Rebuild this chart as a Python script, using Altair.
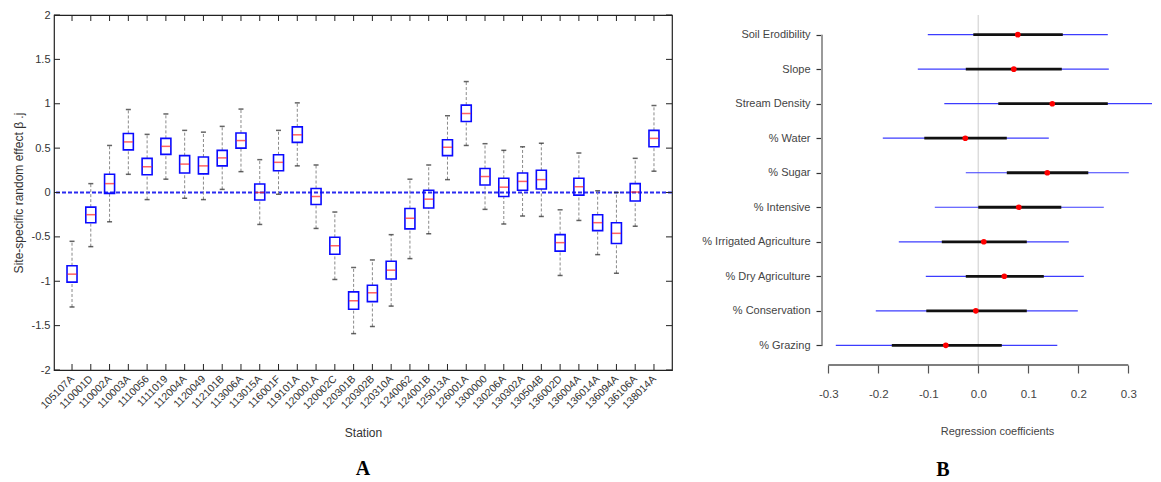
import json
import altair as alt
import pandas as pd

# ---------------- Panel A data ----------------
stations = ["105107A", "110001D", "110002A", "110003A", "1110056", "1111019", "112004A", "1120049",
            "112101B", "113006A", "113015A", "116001F", "119101A", "120001A", "120002C", "120301B",
            "120302B", "120310A", "1240062", "124001B", "125013A", "126001A", "1300000", "130206A",
            "130302A", "130504B", "136002D", "136004A", "136014A", "136094A", "136106A", "138014A"]
med = [-0.92, -0.25, 0.10, 0.57, 0.29, 0.52, 0.32, 0.30, 0.39, 0.585, 0.0, 0.34, 0.65, -0.045, -0.60, -1.22,
       -1.13, -0.875, -0.29, -0.075, 0.51, 0.89, 0.18, 0.06, 0.125, 0.145, -0.565, 0.065, -0.34, -0.46, 0.005, 0.61]
q1 = [-1.01, -0.34, -0.01, 0.48, 0.20, 0.43, 0.22, 0.21, 0.30, 0.50, -0.085, 0.245, 0.565, -0.135, -0.695, -1.315,
      -1.23, -0.975, -0.41, -0.175, 0.415, 0.80, 0.085, -0.045, 0.025, 0.04, -0.66, -0.03, -0.43, -0.575, -0.095, 0.515]
q3 = [-0.825, -0.165, 0.205, 0.665, 0.385, 0.61, 0.415, 0.40, 0.475, 0.67, 0.095, 0.425, 0.74, 0.045, -0.505, -1.12,
      -1.045, -0.775, -0.18, 0.025, 0.595, 0.985, 0.27, 0.16, 0.22, 0.25, -0.475, 0.16, -0.25, -0.34, 0.10, 0.70]
wlo = [-1.29, -0.61, -0.33, 0.205, -0.08, 0.15, -0.065, -0.08, 0.035, 0.235, -0.36, -0.02, 0.30, -0.405, -0.98, -1.59,
       -1.51, -1.28, -0.745, -0.465, 0.145, 0.53, -0.19, -0.355, -0.265, -0.27, -0.935, -0.315, -0.70, -0.91, -0.38, 0.24]
whi = [-0.55, 0.10, 0.53, 0.935, 0.655, 0.885, 0.70, 0.68, 0.745, 0.94, 0.37, 0.70, 1.01, 0.31, -0.22, -0.845,
       -0.76, -0.475, 0.15, 0.31, 0.865, 1.25, 0.55, 0.475, 0.515, 0.555, -0.195, 0.445, 0.02, 0.0, 0.385, 0.98]
y_ticks_A = [-2, -1.5, -1, -0.5, 0, 0.5, 1, 1.5, 2]

# ---------------- Panel B data ----------------
variables = ["Soil Erodibility", "Slope", "Stream Density", "% Water", "% Sugar", "% Intensive",
             "% Irrigated Agriculture", "% Dry Agriculture", "% Conservation", "% Grazing"]
est = [0.079, 0.071, 0.148, -0.026, 0.138, 0.081, 0.011, 0.052, -0.005, -0.065]
lo50 = [-0.01, -0.025, 0.04, -0.108, 0.057, 0.0, -0.073, -0.025, -0.104, -0.173]
hi50 = [0.169, 0.167, 0.259, 0.057, 0.22, 0.166, 0.097, 0.131, 0.097, 0.047]
lo95 = [-0.101, -0.121, -0.068, -0.191, -0.025, -0.087, -0.159, -0.105, -0.205, -0.285]
hi95 = [0.259, 0.261, 0.365, 0.141, 0.301, 0.251, 0.181, 0.211, 0.199, 0.158]
x_ticks_B = [-0.3, -0.2, -0.1, 0.0, 0.1, 0.2, 0.3]

SANS = "Liberation Sans, Arial, sans-serif"
SERIF = "Liberation Serif, Times New Roman, serif"

# ================= Panel A =================
WA, HA = 618, 355
dfA = pd.DataFrame({"station": stations, "med": med, "q1": q1, "q3": q3, "wlo": wlo, "whi": whi})
dfTicksA = pd.DataFrame({"v": y_ticks_A})
dfZero = pd.DataFrame({"z": [0]})

xA = alt.X("station:N", sort=stations,
           scale=alt.Scale(type="point", padding=0.96),
           axis=alt.Axis(title="Station", labelAngle=-45, labelAlign="right", labelBaseline="middle",
                         ticks=False, domain=False, grid=False, labelPadding=7,
                         labelFont=SANS, labelFontSize=10.5, labelColor="#333",
                         titleFont=SANS, titleFontSize=12, titleFontWeight="normal", titleColor="#333",
                         titlePadding=16))
yScaleA = alt.Scale(domain=[-2, 2], nice=False, zero=False)
yAxisA = alt.Axis(values=y_ticks_A, ticks=False, domain=False, grid=False,
                  labelExpr="'' + datum.value", labelPadding=4,
                  labelFont=SANS, labelFontSize=11, labelColor="#333",
                  title="Site-specific random effect β .j", titleFont=SANS, titleFontSize=12,
                  titleFontWeight="normal", titleColor="#333", titlePadding=6)


def yA(field):
    return alt.Y(field, type="quantitative", scale=yScaleA, axis=yAxisA)


baseA = alt.Chart(dfA)
whisk_hi = baseA.mark_rule(color="#8a8a8a", strokeDash=[3, 2], strokeWidth=1).encode(
    x=xA, y=yA("q3"), y2="whi")
whisk_lo = baseA.mark_rule(color="#8a8a8a", strokeDash=[3, 2], strokeWidth=1).encode(
    x=xA, y=yA("wlo"), y2="q1")
cap_hi = baseA.mark_tick(color="#222", size=5, thickness=1.5).encode(x=xA, y=yA("whi"))
cap_lo = baseA.mark_tick(color="#222", size=5, thickness=1.5).encode(x=xA, y=yA("wlo"))
boxes = baseA.mark_bar(size=10, fillOpacity=0, stroke="#0a0aff", strokeWidth=1.6).encode(
    x=xA, y=yA("q1"), y2="q3")
medians = baseA.mark_tick(color="#ff2020", size=9, thickness=1.5).encode(x=xA, y=yA("med"))
zero_line = alt.Chart(dfZero).mark_rule(color="#2b2bf0", strokeDash=[4, 2], strokeWidth=1.8).encode(
    y=yA("z"))
top_ticks = baseA.mark_rule(color="#222", strokeWidth=1).encode(
    x=xA, y=alt.value(0), y2=alt.value(6))
bot_ticks = baseA.mark_rule(color="#222", strokeWidth=1).encode(
    x=xA, y=alt.value(HA - 6), y2=alt.value(HA))
left_ticks = alt.Chart(dfTicksA).mark_rule(color="#222", strokeWidth=1).encode(
    y=yA("v"), x=alt.value(0), x2=alt.value(6))
right_ticks = alt.Chart(dfTicksA).mark_rule(color="#222", strokeWidth=1).encode(
    y=yA("v"), x=alt.value(WA - 6), x2=alt.value(WA))

panelA = alt.layer(
    zero_line, whisk_hi, whisk_lo, cap_hi, cap_lo, boxes, medians,
    top_ticks, bot_ticks, left_ticks, right_ticks
).properties(
    width=WA, height=HA,
    view=alt.ViewBackground(stroke="#222", strokeWidth=1.2),
    title=alt.TitleParams("A", orient="bottom", font=SERIF,
                          fontSize=20, fontWeight="bold", color="#000", offset=21, anchor="middle")
)

# ================= Panel B =================
WB, HB = 330, 350
dfB = pd.DataFrame({"var": variables, "idx": list(range(1, len(variables) + 1)), "est": est,
                    "lo50": lo50, "hi50": hi50, "lo95": lo95, "hi95": hi95})
dfEnds = pd.DataFrame({"a": [1], "b": [len(variables)], "xa": [x_ticks_B[0]], "xb": [x_ticks_B[-1]], "z": [0]})

xScaleB = alt.Scale(domain=[-0.3126, 0.3474], nice=False, zero=False)
xAxisB = alt.Axis(values=x_ticks_B, domain=False, grid=False, tickSize=8, tickColor="#555", tickWidth=1.2,
                  labelExpr="datum.value < 0 ? '-' + format(-datum.value, '.1f') : format(datum.value, '.1f')",
                  labelPadding=15, labelFont=SANS, labelFontSize=11.5, labelColor="#444",
                  title="Regression coefficients", titleFont=SANS, titleFontSize=11,
                  titleFontWeight="normal", titleColor="#444", titlePadding=26, titleX=WB / 2 + 10)
yScaleB = alt.Scale(domain=[0.43, len(variables) + 0.57], reverse=True, nice=False, zero=False)
yAxisB = alt.Axis(values=list(range(1, len(variables) + 1)), domain=False, grid=False,
                  tickSize=6, tickColor="#333", tickWidth=1.2,
                  labelExpr=json.dumps(variables) + "[datum.value - 1]",
                  labelPadding=6, labelFont=SANS, labelFontSize=11, labelColor="#444")


def xB(field):
    return alt.X(field, type="quantitative", scale=xScaleB, axis=xAxisB)


def yB(field):
    return alt.Y(field, type="quantitative", scale=yScaleB, axis=yAxisB, title=None)


baseB = alt.Chart(dfB)
zero_B = alt.Chart(dfEnds).mark_rule(color="#dcdcdc", strokeWidth=1.5).encode(x=xB("z"))
left_axis_line = alt.Chart(dfEnds).mark_rule(color="#9a9a9a", strokeWidth=2).encode(
    x=alt.value(0), y=yB("a"), y2="b")
bottom_axis_line = alt.Chart(dfEnds).mark_rule(color="#555", strokeWidth=1.3).encode(
    x=xB("xa"), x2="xb", y=alt.value(HB))
ci95 = baseB.mark_rule(color="#3c3cff", strokeWidth=1.2, clip=True).encode(
    x=xB("lo95"), x2="hi95", y=yB("idx"))
ci50 = baseB.mark_rule(color="#111", strokeWidth=2.8).encode(
    x=xB("lo50"), x2="hi50", y=yB("idx"))
pts = baseB.mark_point(filled=True, color="#ff0000", size=32, opacity=1, shape="circle").encode(
    x=xB("est"), y=yB("idx"))

panelB = alt.layer(
    zero_B, left_axis_line, bottom_axis_line, ci95, ci50, pts
).properties(
    width=WB, height=HB,
    view=alt.ViewBackground(stroke="transparent", strokeWidth=0),
    title=alt.TitleParams("B", orient="bottom", font=SERIF,
                          fontSize=20, fontWeight="bold", color="#000", offset=23, anchor="middle", dx=-44)
)

chart = alt.hconcat(panelA, panelB, spacing=150, bounds="flush").properties(
    padding={"left": 3, "top": 0, "right": 0, "bottom": 0}
).configure(background="white")

chart.save("out.html", embed_options={"renderer": "svg", "actions": False})
